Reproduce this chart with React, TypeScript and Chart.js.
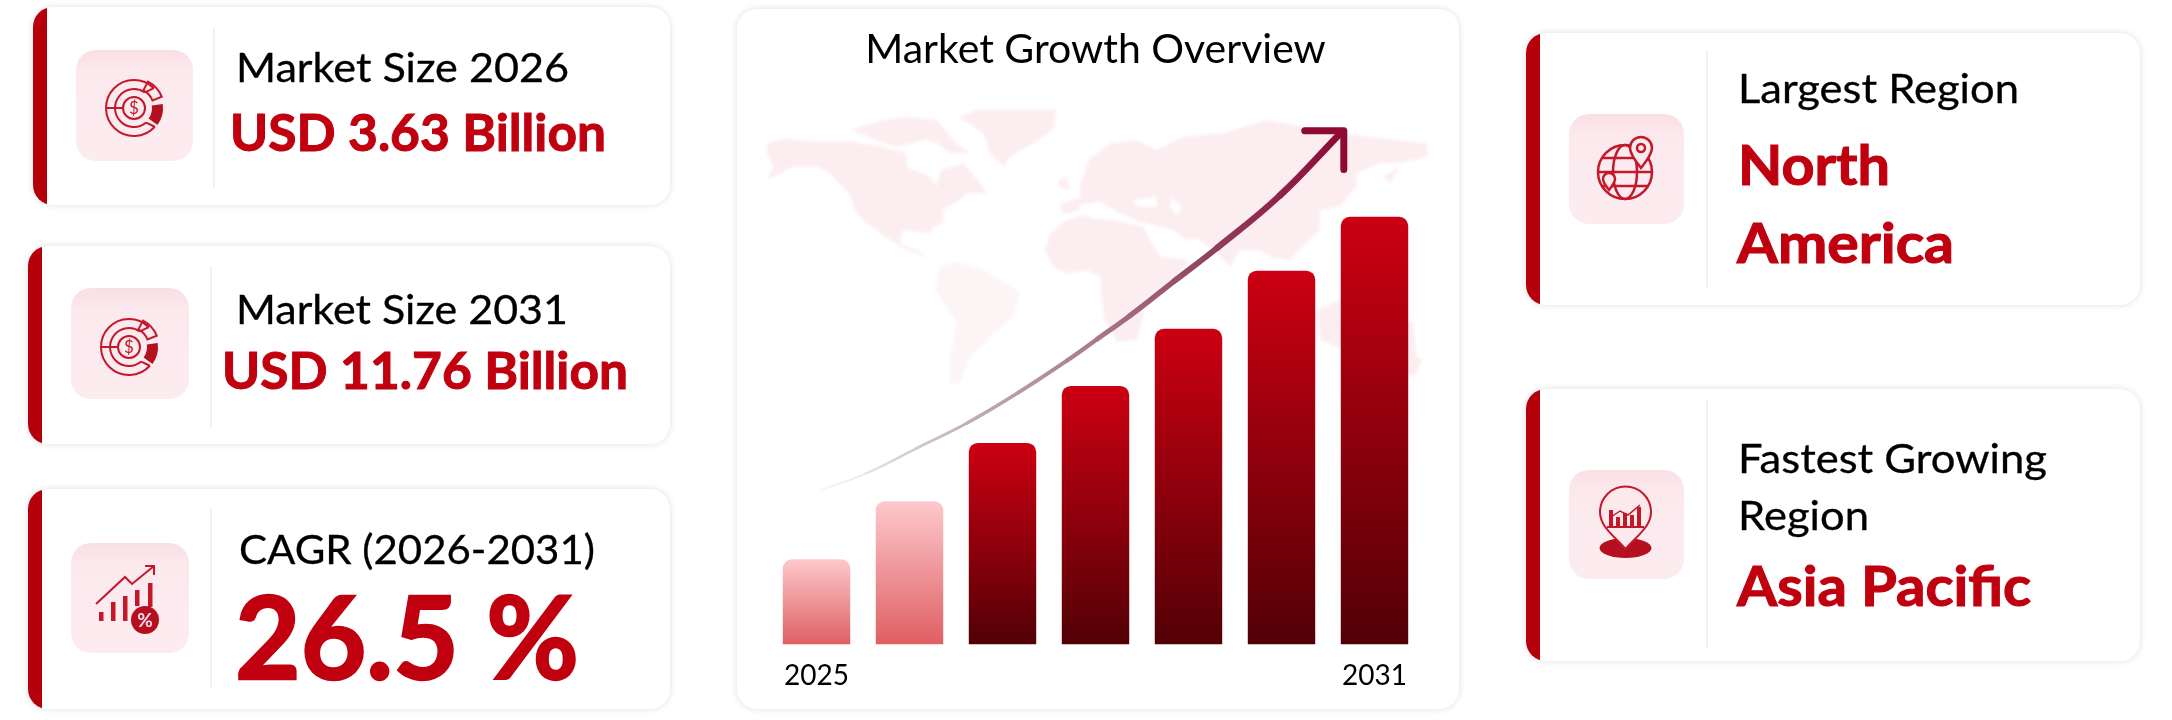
import React, { useEffect, useRef } from "react";
import { Chart, registerables } from "chart.js";

Chart.register(...registerables);

const years = ["2025", "2026", "2027", "2028", "2029", "2030", "2031"];
const barValues = [2.34, 3.94, 5.54, 7.11, 8.68, 10.28, 11.76];
const arrowYears = [2025.04, 2025.54, 2026.08, 2026.62, 2027.16, 2027.69, 2028.02, 2028.37, 2028.85, 2029.31, 2029.98, 2030.63];
const arrowValues = [4.24, 4.71, 5.4, 6.09, 6.91, 7.8, 8.4, 9.04, 10.0, 10.91, 12.34, 14.05];
const headYears = [2030.25, 2030.67, 2030.67];
const headValues = [14.13, 14.13, 13.06];
const chartTitle = "Market Growth Overview";
const RED = "#c0000f";
const STRIP = "#b5000c";
const FONT = "Lato, Carlito, sans-serif";

function GrowthChart() {
  const ref = useRef<HTMLCanvasElement | null>(null);
  useEffect(() => {
    const barFill = (c: any) => {
      const chart = c.chart;
      if (c.dataIndex === undefined || !chart.scales.y) return "#c0000f";
      const y = chart.scales.y;
      const y0 = y.getPixelForValue(barValues[c.dataIndex]);
      const y1 = y.getPixelForValue(0);
      if (!Number.isFinite(y0) || !Number.isFinite(y1)) return "#c0000f";
      const g = chart.ctx.createLinearGradient(0, y0, 0, y1);
      if (c.dataIndex < 2) {
        g.addColorStop(0, "#fdc9cd");
        g.addColorStop(1, "#df5f62");
      } else {
        g.addColorStop(0, "#cc0012");
        g.addColorStop(1, "#520006");
      }
      return g;
    };
    const arrowFill = (c: any) => {
      const chart = c.chart;
      if (!chart.scales.x2) return "#8e0a35";
      const x = chart.scales.x2;
      const x0 = x.getPixelForValue(arrowYears[0]);
      const x1 = x.getPixelForValue(arrowYears[arrowYears.length - 1]);
      if (!Number.isFinite(x0) || !Number.isFinite(x1)) return "#8e0a35";
      const g = chart.ctx.createLinearGradient(x0, 0, x1, 0);
      g.addColorStop(0, "rgba(235,232,233,0.3)");
      g.addColorStop(0.15, "#d8d2d4");
      g.addColorStop(0.3, "#c0aab1");
      g.addColorStop(0.5, "#ae7f90");
      g.addColorStop(0.75, "#90405f");
      g.addColorStop(1, "#8e0a35");
      return g;
    };
    const chart = new Chart(ref.current as HTMLCanvasElement, {
      type: "bar",
      data: {
        labels: years,
        datasets: [
          {
            type: "bar",
            data: barValues,
            backgroundColor: barFill,
            borderRadius: { topLeft: 9, topRight: 9, bottomLeft: 0, bottomRight: 0 },
            borderSkipped: false,
            grouped: false,
            barPercentage: 0.725,
            categoryPercentage: 1,
            order: 2,
          },
          {
            type: "line",
            xAxisID: "x2",
            data: arrowYears.map((x, i) => ({ x, y: arrowValues[i] })),
            borderColor: arrowFill,
            borderCapStyle: "round",
            tension: 0.4,
            pointRadius: 0,
            segment: { borderWidth: (c: any) => 2 + c.p0DataIndex * 0.48 },
            order: 1,
          },
          {
            type: "line",
            xAxisID: "x2",
            data: headYears.map((x, i) => ({ x, y: headValues[i] })),
            borderColor: "#8e0a35",
            borderWidth: 7,
            borderCapStyle: "round",
            borderJoinStyle: "round",
            tension: 0,
            pointRadius: 0,
            order: 0,
          },
        ] as any,
      },
      options: {
        animation: false,
        responsive: false,
        layout: { padding: { left: 33, right: 38, top: 0, bottom: 1 } },
        plugins: {
          legend: { display: false },
          tooltip: { enabled: false },
          title: {
            display: true,
            text: chartTitle,
            color: "#000",
            font: { family: FONT, size: 41, weight: "normal" },
            padding: { top: 16, bottom: 3 },
          },
        },
        scales: {
          x: {
            offset: true,
            grid: { display: false, drawTicks: false },
            border: { display: false },
            ticks: {
              autoSkip: false,
              maxRotation: 0,
              padding: 15,
              color: "#000",
              font: { family: FONT, size: 28 },
              callback: (_v: any, i: number) => (i === 0 || i === years.length - 1 ? years[i] : ""),
            },
          },
          x2: { type: "linear", display: false, offset: false, min: 2024.5, max: 2031.5 },
          y: { display: false, min: 0, max: 15.6 },
        },
      } as any,
    });
    return () => chart.destroy();
  }, []);
  return <canvas ref={ref} width={722} height={700} style={{ position: "absolute", left: 737, top: 9, width: 722, height: 700 }} />;
}

function Card({ x, y, w, h, strip }: { x: number; y: number; w: number; h: number; strip: boolean }) {
  return (
    <div
      style={{
        position: "absolute",
        left: x,
        top: y,
        width: w,
        height: h,
        borderRadius: 20,
        background: "#fff",
        boxShadow: "0 0 7px rgba(0,0,0,0.13)",
        overflow: "hidden",
      }}
    >
      {strip && <div style={{ position: "absolute", left: 0, top: 0, bottom: 0, width: 14, background: STRIP }} />}
    </div>
  );
}

function polar(r: number, deg: number) {
  const a = (deg * Math.PI) / 180;
  return `${(r * Math.cos(a)).toFixed(2)} ${(r * Math.sin(a)).toFixed(2)}`;
}
function arc(r: number, a1: number, a2: number, large = 0) {
  return `M${polar(r, a1)} A${r} ${r} 0 ${large} 0 ${polar(r, a2)}`;
}
function ring(r1: number, r2: number, a1: number, a2: number) {
  return `M${polar(r2, a1)} A${r2} ${r2} 0 0 1 ${polar(r2, a2)} L${polar(r1, a2)} A${r1} ${r1} 0 0 0 ${polar(r1, a1)} Z`;
}

function IconBox({ x, y, w, h }: { x: number; y: number; w: number; h: number }) {
  return <rect x={x} y={y} width={w} height={h} rx={20} fill="url(#iconBg)" />;
}

function DonutIcon({ cx, cy }: { cx: number; cy: number }) {
  return (
    <g transform={`translate(${cx} ${cy})`} fill="none" stroke="#c4182a" strokeWidth={2}>
      <path d={arc(28, -45, 42, 1)} />
      <path d={arc(19, -55, 50, 1)} />
      <circle r={11} />
      <path d={`M-28 0 L-11 0 M${polar(19, 50)} L${polar(28, 42)} M${polar(19, -55)} L${polar(28, -45)}`} />
      <path d={ring(18, 29, -8, 36)} fill="#b5101f" stroke="none" />
      <path d={ring(20, 30, -62, -22)} />
      <text x={0} y={6} textAnchor="middle" fontFamily={FONT} fontSize={17} fill="#c4182a" stroke="none">$</text>
    </g>
  );
}

function TrendIcon() {
  return (
    <g fill="#c4182a">
      <rect x={99} y={612} width={4.5} height={9} />
      <rect x={111} y={602} width={4.5} height={19} />
      <rect x={123} y={596} width={4.5} height={25} />
      <rect x={135} y={590} width={4.5} height={16} />
      <rect x={148} y={583} width={4.5} height={24} />
      <path d="M96 604 L125 577 L132 584 L154 566 M145 566 L154 566 L154 575" fill="none" stroke="#c4182a" strokeWidth={2} />
      <circle cx={145} cy={620} r={14} fill="#b5101f" />
      <text x={145} y={627} textAnchor="middle" fontFamily={FONT} fontWeight={700} fontSize={19} fill="#fde">%</text>
    </g>
  );
}

function GlobeIcon() {
  return (
    <g fill="none" stroke="#c4182a" strokeWidth={2.5}>
      <circle cx={1625} cy={172} r={27} />
      <ellipse cx={1625} cy={172} rx={12} ry={27} />
      <path d="M1598 172 L1652 172 M1602 158 L1648 158 M1602 186 L1648 186" />
      <path d="M1641 168 C1633 158 1630 153 1630 148 A11 11 0 0 1 1652 148 C1652 153 1649 158 1641 168 Z" fill="#fbe9ec" />
      <circle cx={1641} cy={148} r={4} />
      <path d="M1609 190 C1605 185 1603 182 1603 179 A6 6 0 0 1 1615 179 C1615 182 1613 185 1609 190 Z" fill="#fbe9ec" />
    </g>
  );
}

function PinIcon() {
  return (
    <g>
      <ellipse cx={1625.5} cy={548} rx={26} ry={10} fill="#b5101f" />
      <path d="M1625.5 549 C1612 534 1600 526 1600 512 A25.5 25.5 0 0 1 1651 512 C1651 526 1639 534 1625.5 549 Z" fill="#fbe9ec" stroke="#c4182a" strokeWidth={2} />
      <g fill="#c4182a">
        <rect x={1609} y={510} width={4} height={17} />
        <rect x={1616} y={517} width={4} height={10} />
        <rect x={1623} y={513} width={4} height={14} />
        <rect x={1630} y={515} width={4} height={12} />
        <rect x={1637} y={507} width={4} height={20} />
        <rect x={1607} y={526} width={37} height={2} />
      </g>
      <path d="M1611 517 L1620 511 L1628 515 L1640 505" fill="none" stroke="#c4182a" strokeWidth={1.5} />
    </g>
  );
}

const westMap = [
  "50,100 110,85 200,95 300,95 400,110 470,130 470,170 540,200 560,230 570,180 640,160 690,215 710,250 650,250 630,270 580,300 580,340 550,350 540,370 460,360 450,400 500,420 540,445 470,420 420,390 350,340 320,310 295,250 240,190 200,170 130,170 90,190 50,210 70,170 50,130",
  "300,60 400,30 480,20 560,30 620,100 660,130 600,130 560,100 530,90 440,110 380,90",
  "625,20 680,0 920,0 910,60 850,100 780,140 760,170 720,130 700,70",
  "885,420 900,370 950,330 1020,310 1020,480 950,490 910,470",
  "930,280 970,270 1020,250 1020,285 960,310 935,310",
  "925,210 950,200 960,240 925,230",
];
const southAmerica = "570,470 620,455 700,480 810,545 790,620 720,680 660,740 630,820 600,820 600,740 620,640 590,590 555,540";
const eastMap = [
  "25,150 90,100 170,90 230,120 310,80 430,70 560,30 700,55 860,80 1040,100 1045,140 960,160 900,160 830,190 830,230 780,290 720,300 720,360 680,400 630,450 570,440 540,420 480,420 450,470 400,420 350,385 320,390 280,360 200,340 100,320 50,310 0,310 0,230",
  "0,320 100,330 190,350 240,440 330,450 270,530 190,570 190,620 170,690 110,695 70,620 60,500 0,470",
  "710,600 780,570 1000,640 1010,740 1030,750 1000,800 950,780 720,690",
  "910,200 960,170 930,220",
];
const eastLakes = ["160,270 230,260 230,290 170,290", "275,260 305,290 290,315 270,290", "0,285 60,275 110,305 170,330 60,322 0,315"];

function WorldMap() {
  return (
    <svg width={2172} height={720} style={{ position: "absolute", left: 0, top: 0, filter: "blur(1.5px)" }}>
      <g transform="translate(750 110) scale(0.3333)">
        {westMap.map((p, i) => (
          <polygon key={i} points={p} fill="#fceef0" />
        ))}
        <polygon points={southAmerica} fill="#fdf4f5" />
      </g>
      <g transform="translate(1080 110) scale(0.3333)">
        {eastMap.map((p, i) => (
          <polygon key={i} points={p} fill="#fceef0" />
        ))}
        {eastLakes.map((p, i) => (
          <polygon key={i} points={p} fill="#fff" />
        ))}
      </g>
    </svg>
  );
}

function Label({ x, y, w, text }: { x: number; y: number; w: number; text: string }) {
  return (
    <text x={x} y={y} fontFamily={FONT} fontSize={40} fill="#000" stroke="#000" strokeWidth={0.3} textLength={w} lengthAdjust="spacingAndGlyphs">
      {text}
    </text>
  );
}
function Big({ x, y, w, size, text }: { x: number; y: number; w: number; size: number; text: string }) {
  return (
    <text x={x} y={y} fontFamily={FONT} fontWeight={700} fontSize={size} fill={RED} stroke={RED} strokeWidth={size / 50} textLength={w} lengthAdjust="spacingAndGlyphs">
      {text}
    </text>
  );
}

export default function App() {
  return (
    <div style={{ position: "absolute", left: 0, top: 0, width: 2172, height: 720, overflow: "hidden", background: "#fff" }}>
      <Card x={33} y={7} w={637} h={198} strip />
      <Card x={28} y={246} w={642} h={198} strip />
      <Card x={28} y={489} w={642} h={220} strip />
      <Card x={737} y={9} w={722} h={700} strip={false} />
      <Card x={1526} y={33} w={614} h={272} strip />
      <Card x={1526} y={389} w={614} h={272} strip />
      <WorldMap />
      <GrowthChart />
      <svg width={2172} height={720} style={{ position: "absolute", left: 0, top: 0, pointerEvents: "none" }}>
        <defs>
          <linearGradient id="iconBg" x1="0" y1="0" x2="0" y2="1">
            <stop offset="0" stopColor="#f9dfe4" />
            <stop offset="0.2" stopColor="#fbe9ee" />
            <stop offset="1" stopColor="#fcecf0" />
          </linearGradient>
        </defs>
        <g stroke="#ececec" strokeWidth={1.5}>
          <line x1={214} y1={28} x2={214} y2={187} />
          <line x1={211} y1={266} x2={211} y2={427} />
          <line x1={211} y1={509} x2={211} y2={687} />
          <line x1={1707} y1={50} x2={1707} y2={287} />
          <line x1={1707} y1={399} x2={1707} y2={648} />
        </g>
        <IconBox x={76} y={50} w={117} h={111} />
        <IconBox x={71} y={288} w={118} h={111} />
        <IconBox x={71} y={543} w={118} h={110} />
        <IconBox x={1569} y={114} w={115} h={110} />
        <IconBox x={1569} y={470} w={115} h={109} />
        <DonutIcon cx={134} cy={108} />
        <DonutIcon cx={129} cy={347} />
        <TrendIcon />
        <GlobeIcon />
        <PinIcon />
        <Label x={236} y={82} w={333} text="Market Size 2026" />
        <Big x={230} y={151} w={376} size={51} text="USD 3.63 Billion" />
        <Label x={236} y={324} w={332} text="Market Size 2031" />
        <Big x={222} y={389} w={406} size={51} text="USD 11.76 Billion" />
        <Label x={239} y={564} w={356} text="CAGR (2026-2031)" />
        <Big x={235} y={679} w={344} size={115} text="26.5 %" />
        <Label x={1738} y={103} w={281} text="Largest Region" />
        <Big x={1738} y={185} w={152} size={56} text="North" />
        <Big x={1737} y={263} w={217} size={56} text="America" />
        <Label x={1738} y={473} w={309} text="Fastest Growing" />
        <Label x={1738} y={530} w={131} text="Region" />
        <Big x={1737} y={606} w={294} size={56} text="Asia Pacific" />
      </svg>
    </div>
  );
}
